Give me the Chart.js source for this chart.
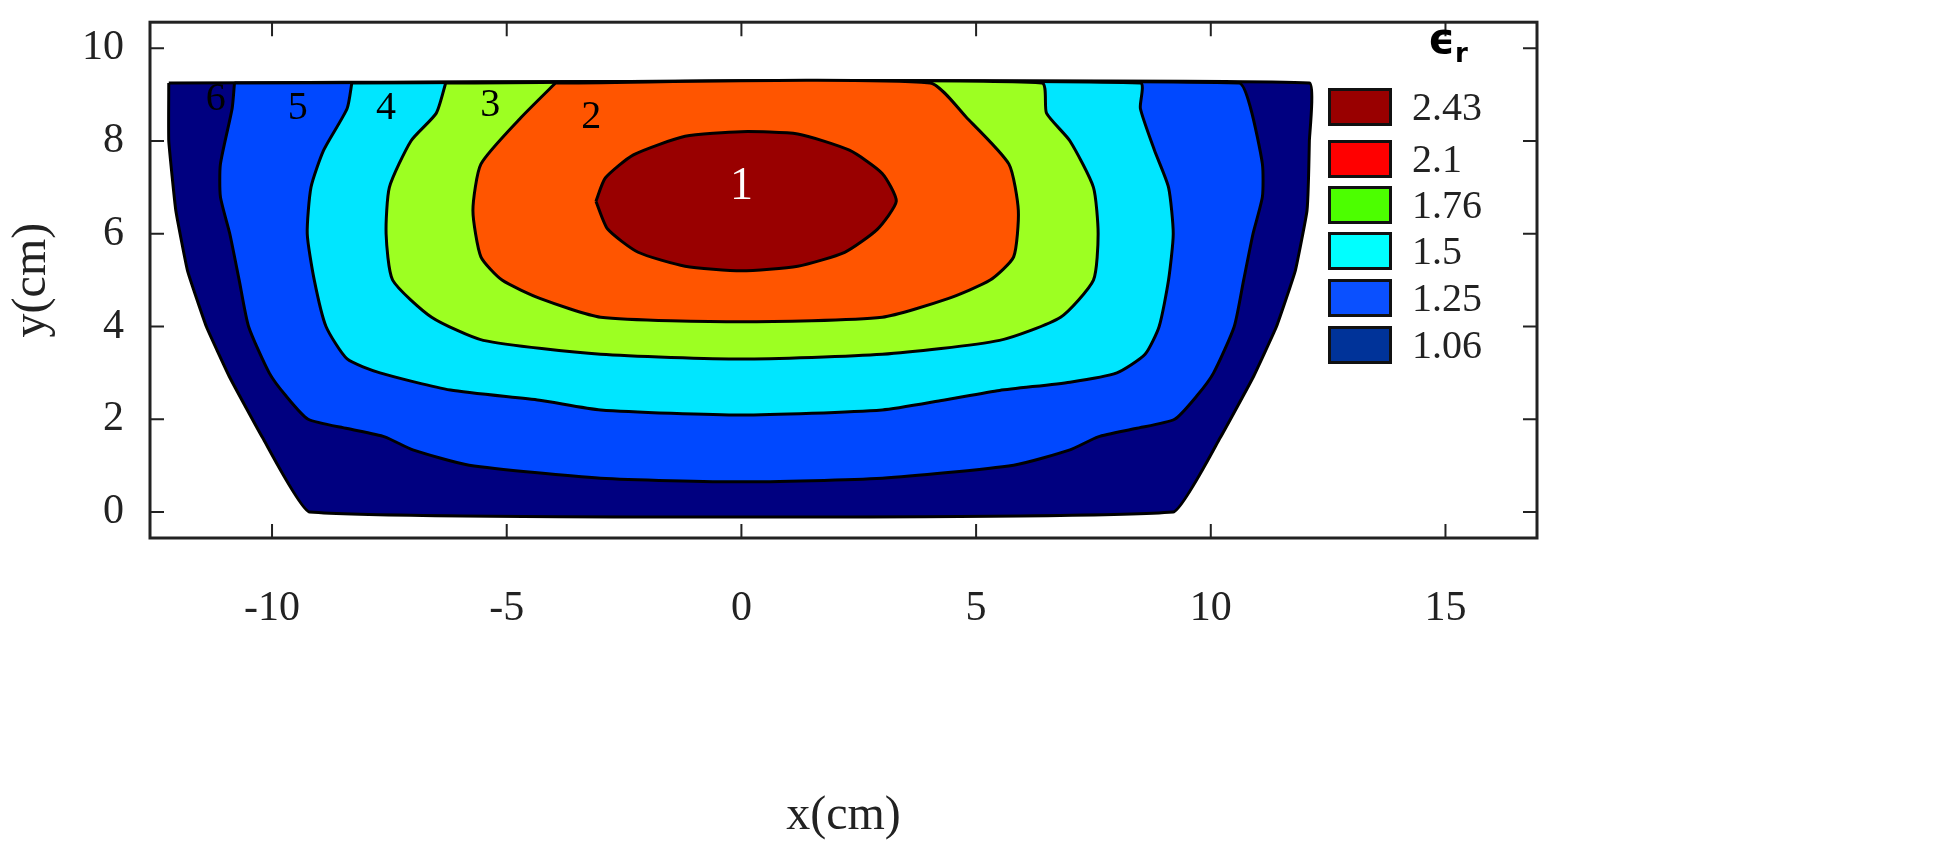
<!DOCTYPE html>
<html><head><meta charset="utf-8">
<script src="https://cdn.jsdelivr.net/npm/chart.js@4"></script>
<style>
body{margin:0;background:#fff;font-family:"Liberation Serif",serif;overflow:hidden}
#wrap{position:relative;width:1942px;height:861px;overflow:hidden}
#c{position:absolute;left:0;top:-21px}
.leg{position:absolute;left:1328px;width:64px;height:38px;border:3px solid #111;box-sizing:border-box}
.lt{position:absolute;left:1412px;font-size:40px;line-height:38px;color:#222}
</style></head>
<body><div id="wrap"><canvas id="c" width="1942" height="882"></canvas><div id="legend"></div></div>
<script>
// region boundaries, outermost first
const domain = [[-12.2,9.25],[-12.2,8],[-12.05,6.5],[-11.8,5.2],[-11.4,4],[-10.9,2.9],[-10.2,1.6],[-9.2,0],[9.2,0],[10.2,1.6],[10.9,2.9],[11.4,4],[11.8,5.2],[12.05,6.5],[12.1,8],[12.1,9.25],[-12.2,9.25]];
const c5 = [[-10.8,9.25],[-10.85,8.7],[-11.1,7.5],[-11.1,6.8],[-10.9,6],[-10.7,5],[-10.5,4],[-10.06,3],[-9.7,2.5],[-9.23,2],[-8.4,1.8],[-7.6,1.62],[-7.0,1.34],[-5.8,1.01],[-3.0,0.73],[0,0.65],[3.0,0.73],[5.8,1.01],[7.0,1.34],[7.6,1.62],[8.4,1.8],[9.23,2],[9.7,2.5],[10.06,3],[10.5,4],[10.7,5],[10.9,6],[11.1,6.8],[11.1,7.5],[10.85,8.7],[10.6,9.25],[-10.8,9.25]];
const c4 = [[-8.3,9.25],[-8.4,8.7],[-8.9,7.8],[-9.17,7],[-9.25,6],[-9.1,5],[-8.85,4],[-8.4,3.3],[-7.7,3],[-6.2,2.63],[-4.3,2.41],[-3.0,2.2],[0,2.09],[3.0,2.2],[4.3,2.41],[5.5,2.62],[7.0,2.8],[8.0,3],[8.6,3.4],[8.9,4],[9.1,5],[9.2,6],[9.1,7],[8.8,7.8],[8.5,8.7],[8.5,9.25],[-8.3,9.25]];
const c3 = [[-6.3,9.25],[-6.5,8.6],[-7.04,8],[-7.5,7],[-7.57,6],[-7.43,5],[-6.6,4.2],[-5.5,3.7],[-3.0,3.4],[0,3.3],[3.0,3.4],[5.5,3.7],[6.8,4.2],[7.5,5],[7.6,6],[7.5,7],[7.0,8],[6.5,8.6],[6.4,9.25],[-6.3,9.25]];
const c2 = [[-3.96,9.25],[-4.7,8.5],[-5.55,7.5],[-5.72,6.5],[-5.55,5.5],[-5.1,5],[-4.28,4.6],[-3.0,4.2],[0,4.1],[3.0,4.2],[4.4,4.6],[5.3,5],[5.8,5.5],[5.9,6.5],[5.7,7.5],[4.8,8.5],[4.02,9.25],[-3.96,9.25]];
const c1 = [[-3.1,6.7],[-2.9,7.2],[-2.3,7.7],[-1.2,8.1],[0,8.2],[1.2,8.15],[2.3,7.8],[3.0,7.3],[3.3,6.7],[2.9,6.1],[2.2,5.6],[1.2,5.3],[0,5.2],[-1.2,5.3],[-2.2,5.6],[-2.85,6.1],[-3.1,6.7]];
const regions = [domain, c5, c4, c3, c2, c1];
const fills = ['#000080','#0048ff','#00e6ff','#9dff22','#ff5500','#990000'];
const labels = [['6',-11.2,8.9],['5',-9.45,8.7],['4',-7.57,8.7],['3',-5.35,8.77],['2',-3.2,8.5],['1',0,7.0]];
const xTicks = [-10,-5,0,5,10,15];
const yTicks = [0,2,4,6,8,10];
const legendVals = ['2.43','2.1','1.76','1.5','1.25','1.06'];
const legendCols = ['#990000','#ff0000','#4cff00','#00ffff','#0a50ff','#003399'];

const lg = document.getElementById('legend');
lg.innerHTML = '<div style="position:absolute;left:1428px;top:14px;font-size:42px;font-weight:bold;font-family:DejaVu Sans">ϵ<sub style="font-size:26px">r</sub></div>';
const legTops = [88,140,186,232,279,326];
legendVals.forEach((v,i)=>{
  lg.innerHTML += `<div class="leg" style="top:${legTops[i]}px;background:${legendCols[i]}"></div><div class="lt" style="top:${legTops[i]}px">${v}</div>`;
});

const frame = {
  id:'frame',
  afterDraw(ch){
    const {ctx, chartArea:a, scales:{x,y}} = ch;
    ctx.save();
    ctx.textAlign='center'; ctx.textBaseline='middle';
    labels.forEach(([t,lx,ly])=>{
      ctx.fillStyle = t==='1' ? '#fff' : '#000';
      ctx.font = t==='1' ? '46px "Liberation Serif"' : '40px "Liberation Serif"';
      ctx.fillText(t, x.getPixelForValue(lx), y.getPixelForValue(ly));
    });
    ctx.strokeStyle='#222'; ctx.lineWidth=3;
    ctx.strokeRect(a.left,a.top,a.right-a.left,a.bottom-a.top);
    ctx.lineWidth=2;
    xTicks.forEach(v=>{const p=x.getPixelForValue(v);
      ctx.beginPath();ctx.moveTo(p,a.bottom);ctx.lineTo(p,a.bottom-14);ctx.moveTo(p,a.top);ctx.lineTo(p,a.top+14);ctx.stroke();});
    yTicks.forEach(v=>{const p=y.getPixelForValue(v);
      ctx.beginPath();ctx.moveTo(a.left,p);ctx.lineTo(a.left+14,p);ctx.moveTo(a.right,p);ctx.lineTo(a.right-14,p);ctx.stroke();});
    ctx.restore();
  }
};

new Chart(document.getElementById('c'), {
  type:'scatter',
  data:{datasets: regions.map((r,i)=>({
    data:r.map(([px,py])=>({x:px,y:py})),
    showLine:true, fill:'shape', backgroundColor:fills[i],
    borderColor:'#000', borderWidth:3, pointRadius:0, tension: i===0 ? 0.1 : 0.2,
    order: regions.length - i
  }))},
  plugins:[frame],
  options:{
    responsive:false, animation:false,
    layout:{padding:{top:1,right:405,left:0,bottom:12}},
    plugins:{legend:{display:false},tooltip:{enabled:false}},
    scales:{
      x:{type:'linear',min:-12.6,max:16.95,
        afterBuildTicks:s=>{s.ticks=xTicks.map(v=>({value:v}));},
        afterFit:s=>{s.height=311;},
        grid:{display:false},border:{display:false},
        ticks:{color:'#222',font:{family:'Liberation Serif',size:42},padding:38},
        title:{display:true,text:'x(cm)',color:'#222',font:{family:'Liberation Serif',size:48},padding:{top:14}}},
      y:{type:'linear',min:-0.56,max:10.56,
        afterBuildTicks:s=>{s.ticks=yTicks.map(v=>({value:v}));},
        afterFit:s=>{s.width=150;},
        grid:{display:false},border:{display:false},
        ticks:{color:'#222',font:{family:'Liberation Serif',size:42},padding:18},
        title:{display:true,text:'y(cm)',color:'#222',font:{family:'Liberation Serif',size:48},padding:{bottom:0}}}
    }
  }
});
</script></body></html>
